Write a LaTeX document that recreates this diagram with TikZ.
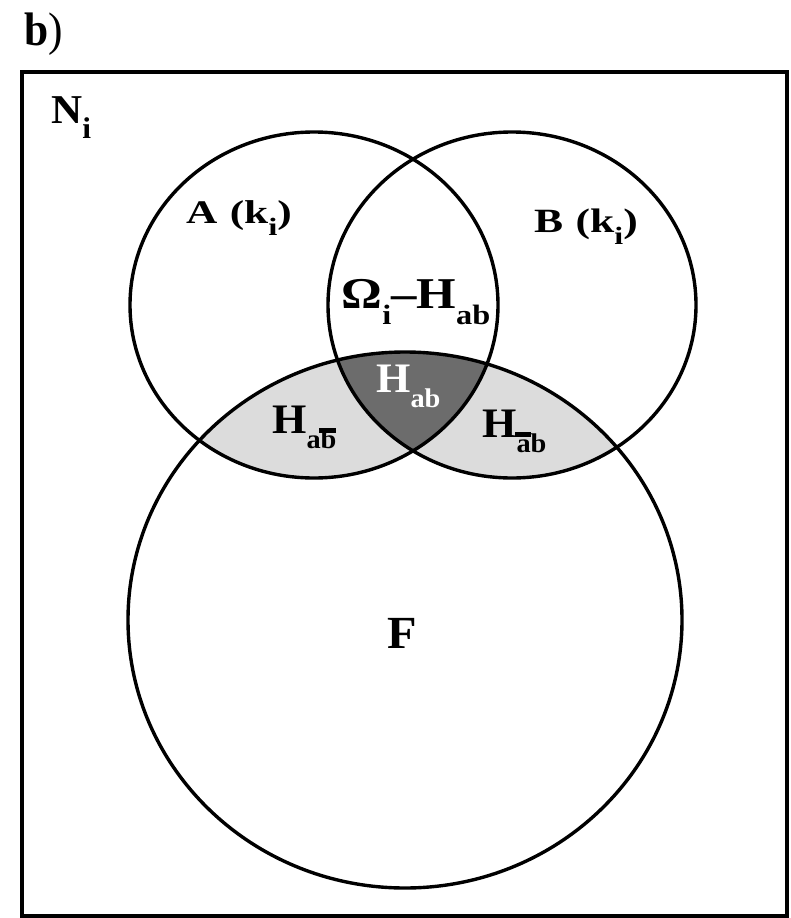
\documentclass[tikz,border=0pt]{standalone}
\usepackage{fontspec}
\setmainfont{Liberation Serif}[FakeStretch=1.05]
\newcommand\lsub[2]{\raisebox{-0.38em}{\fontsize{#1}{#1}\selectfont #2}}
\newcommand\tbar[1]{\setbox0\hbox{#1}\rlap{\kern-0.05em\raisebox{0.6em}{\rule{\dimexpr\wd0+0.05em\relax}{0.17em}}}\box0}
\newcommand\wide[2]{\scalebox{#1}[1]{#2}}
\definecolor{lightg}{HTML}{DCDCDC}
\definecolor{darkg}{HTML}{6C6C6C}
\begin{document}
\begin{tikzpicture}[x=1pt,y=-1pt,
  lbl/.style={anchor=base west, inner sep=0pt},
  ring/.style={draw=black, line width=3.4pt}]
\useasboundingbox (0,0) rectangle (790,918);
\fill[white] (0,0) rectangle (790,918);
% shaded regions
\begin{scope}
  \clip (314,305) ellipse [x radius=184, y radius=173];
  \fill[lightg] (405,620) ellipse [x radius=277, y radius=268];
\end{scope}
\begin{scope}
  \clip (512,305) ellipse [x radius=184, y radius=173];
  \fill[lightg] (405,620) ellipse [x radius=277, y radius=268];
\end{scope}
\begin{scope}
  \clip (314,305) ellipse [x radius=184, y radius=173];
  \clip (512,305) ellipse [x radius=184, y radius=173];
  \fill[darkg] (405,620) ellipse [x radius=277, y radius=268];
\end{scope}
% outlines
\draw[ring] (314,305) ellipse [x radius=184, y radius=173];
\draw[ring] (512,305) ellipse [x radius=184, y radius=173];
\draw[ring] (405,620) ellipse [x radius=277, y radius=268];
\draw[line width=4pt] (22,72) rectangle (787,916);
% labels
\node[lbl, font=\fontsize{47}{47}\selectfont] (lb) at (24,45) {\wide{0.88}{\textbf{b})}};
\node[lbl, font=\fontsize{41}{41}\selectfont\bfseries] (ni) at (51,123) {N\lsub{30}{i}};
\node[lbl, font=\fontsize{33}{33}\selectfont\bfseries] (la) at (186,223) {\wide{1.25}{A\hspace{0.3em}(k\lsub{25}{i})}};
\node[lbl, font=\fontsize{34}{34}\selectfont\bfseries] (lbb) at (534,232) {\wide{1.22}{B\hspace{0.3em}(k\lsub{25}{i})}};
\node[anchor=base, inner sep=0pt, font=\fontsize{44}{44}\selectfont\bfseries] (lo) at (416,308) {\wide{1.1}{Ω\lsub{28}{i}–H\lsub{28}{ab}}};
\node[lbl, font=\fontsize{42}{42}\selectfont\bfseries, text=white] (hab) at (376,392) {H\lsub{27}{ab}};
\node[lbl, font=\fontsize{42}{42}\selectfont\bfseries] (habn) at (272,433) {H\lsub{27}{a\tbar{b}}};
\node[lbl, font=\fontsize{42}{42}\selectfont\bfseries] (hnab) at (482,437) {H\lsub{27}{\tbar{a}b}};
\node[lbl, font=\fontsize{46}{46}\selectfont\bfseries] (lf) at (387,648) {F};
\end{tikzpicture}
\end{document}
